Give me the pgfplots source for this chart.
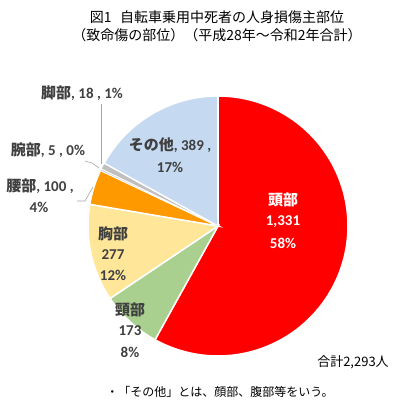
\documentclass[border=0pt]{standalone}
\usepackage{pgfplots}
\pgfplotsset{compat=1.18}
\usepackage{fontspec}
\setmainfont{Carlito}
\newfontfamily\cjk{Noto Sans CJK JP}
\definecolor{cHead}{HTML}{FF0000}
\definecolor{cNeck}{HTML}{A9D08E}
\definecolor{cChest}{HTML}{FFE699}
\definecolor{cWaist}{HTML}{FF9900}
\definecolor{cArm}{HTML}{D0CECE}
\definecolor{cLeg}{HTML}{BFBFBF}
\definecolor{cOther}{HTML}{C5D9F1}
\definecolor{lbl}{HTML}{404040}
\begin{document}
\begin{tikzpicture}
\def\cx{218}\def\cy{178}\def\r{130}
\def\tot{2293}
% values: head 1331, neck 173, chest 277, waist 100, arm 5, leg 18, other 389
\pgfmathsetmacro\aA{90}
\pgfmathsetmacro\aB{\aA-1331/\tot*360}
\pgfmathsetmacro\aC{\aB-173/\tot*360}
\pgfmathsetmacro\aD{\aC-277/\tot*360}
\pgfmathsetmacro\aE{\aD-100/\tot*360}
\pgfmathsetmacro\aF{\aE-5/\tot*360}
\pgfmathsetmacro\aG{\aF-18/\tot*360}
\pgfmathsetmacro\aH{\aG-389/\tot*360}
\begin{axis}[
  width=400pt, height=404pt, scale only axis,
  xmin=0, xmax=400, ymin=0, ymax=404,
  hide axis, clip=false,
]
\addplot[draw=none] coordinates {(0,0) (400,404)};
\pgfplotsset{pie/.style={draw=white, line width=1.5pt, samples=90, variable=\t}}
\addplot[pie, fill=cHead, domain=\aB:\aA] ({\cx+\r*cos(\t)},{\cy+\r*sin(\t)}) -- (axis cs:\cx,\cy) -- cycle;
\addplot[pie, fill=cNeck, domain=\aC:\aB] ({\cx+\r*cos(\t)},{\cy+\r*sin(\t)}) -- (axis cs:\cx,\cy) -- cycle;
\addplot[pie, fill=cChest, domain=\aD:\aC] ({\cx+\r*cos(\t)},{\cy+\r*sin(\t)}) -- (axis cs:\cx,\cy) -- cycle;
\addplot[pie, fill=cWaist, domain=\aE:\aD] ({\cx+\r*cos(\t)},{\cy+\r*sin(\t)}) -- (axis cs:\cx,\cy) -- cycle;
\addplot[pie, fill=cArm, line width=0.5pt, domain=\aF:\aE] ({\cx+\r*cos(\t)},{\cy+\r*sin(\t)}) -- (axis cs:\cx,\cy) -- cycle;
\addplot[pie, fill=cLeg, line width=0.8pt, domain=\aG:\aF] ({\cx+\r*cos(\t)},{\cy+\r*sin(\t)}) -- (axis cs:\cx,\cy) -- cycle;
\addplot[pie, fill=cOther, domain=\aH:\aG] ({\cx+\r*cos(\t)},{\cy+\r*sin(\t)}) -- (axis cs:\cx,\cy) -- cycle;

% leader lines
\draw[gray!70, line width=0.6pt] (axis cs:101,300) -- (axis cs:101,240);
\draw[gray!70, line width=0.6pt] (axis cs:85,243) -- (axis cs:92,241) -- (axis cs:99,236);
\draw[gray!70, line width=0.6pt] (axis cs:77,203) -- (axis cs:85,203) -- (axis cs:93,217);

% titles
\node[font=\cjk\fontsize{14}{16}\selectfont] at (axis cs:217,387) {図1\hspace{0.6em}自転車乗用中死者の人身損傷主部位};
\node[font=\cjk\fontsize{14}{16}\selectfont] at (axis cs:217,369) {（致命傷の部位）（平成28年～令和2年合計）};

% labels
\def\sz{\fontsize{15}{18}\selectfont}
\node[white, font=\cjk\bfseries\sz] at (axis cs:283,204) {頭部};
\node[white, font=\bfseries\sz] at (axis cs:283,182) {1,331};
\node[white, font=\bfseries\sz] at (axis cs:283,161) {58\%};

\node[lbl, font=\bfseries\sz] at (axis cs:170,259) {{\cjk その他}, 389 ,};
\node[lbl, font=\bfseries\sz] at (axis cs:170,237) {17\%};

\node[lbl, font=\bfseries\sz] at (axis cs:82,311) {{\cjk 脚部}, 18 , 1\%};
\node[lbl, font=\bfseries\sz] at (axis cs:48,254) {{\cjk 腕部}, 5 , 0\%};
\node[lbl, font=\bfseries\sz] at (axis cs:40,218) {{\cjk 腰部}, 100 ,};
\node[lbl, font=\bfseries\sz] at (axis cs:39,197) {4\%};

\node[lbl, font=\cjk\bfseries\sz] at (axis cs:113,170) {胸部};
\node[lbl, font=\bfseries\sz] at (axis cs:113,149) {277};
\node[lbl, font=\bfseries\sz] at (axis cs:113,129) {12\%};

\node[lbl, font=\cjk\bfseries\sz] at (axis cs:130,94) {頸部};
\node[lbl, font=\bfseries\sz] at (axis cs:130,73) {173};
\node[lbl, font=\bfseries\sz] at (axis cs:130,52) {8\%};

\node[font=\cjk\fontsize{13}{15}\selectfont] at (axis cs:353,42) {合計2,293人};
\node[font=\cjk\fontsize{12}{14}\selectfont] at (axis cs:220,12) {・「その他」とは、顔部、腹部等をいう。};
\end{axis}
\end{tikzpicture}
\end{document}
